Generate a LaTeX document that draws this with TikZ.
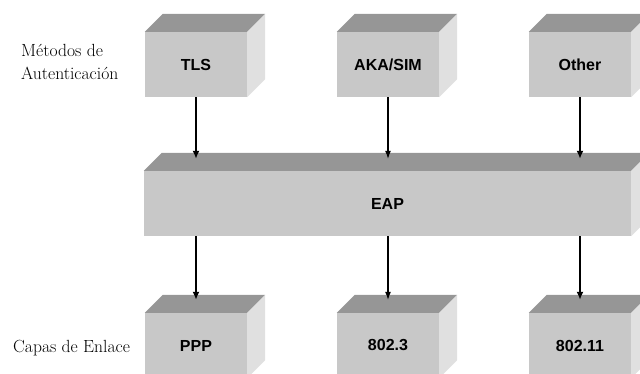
\documentclass[tikz,border=0pt]{standalone}
\usepackage{fontspec}
\newfontfamily\boxfont{Liberation Sans}
\usepackage{tikz}
\usetikzlibrary{arrows.meta, positioning, calc}
\usepackage{xcolor}
\definecolor{FaceGray}{RGB}{200, 200, 200}
\definecolor{TopGray}{RGB}{150, 150, 150}
\definecolor{SideGray}{RGB}{224, 224, 224}

% top and right faces of a block, drawn behind the named front face
\newcommand{\blocksides}[1]{%
  \fill[TopGray] (#1.north west) -- ++(18,-18) -- ($(#1.north east)+(18,-18)$) -- (#1.north east) -- cycle;
  \fill[SideGray] (#1.north east) -- ++(18,-18) -- ($(#1.south east)+(18,-18)$) -- (#1.south east) -- cycle;}

\begin{document}
\begin{tikzpicture}[x=1pt, y=-1pt,
  block/.style={fill=FaceGray, minimum width=102pt, minimum height=65pt, inner sep=0pt,
    font=\boxfont\fontsize{16}{18}\selectfont\bfseries},
  link/.style={-{Latex[length=8pt, width=7pt]}, line width=2pt},
  thinlink/.style={-{Latex[length=8pt, width=6pt]}, line width=1.1pt}]
\useasboundingbox (0,0) rectangle (640,374);
\clip (0,0) rectangle (640,374);
% authentication methods
\node[block] (tls) at (196,64.5) {TLS};
\node[block] (aka) at (388,64.5) {AKA/SIM};
\node[block] (other) at (580,64.5) {Other};
\blocksides{tls}
\blocksides{aka}
\blocksides{other}
\node[anchor=west, inner sep=0pt, align=left, font=\fontsize{17.6}{23}\selectfont] (authlabel) at (21,62) {Métodos de\\Autenticación};
% EAP
\node[block, minimum width=487pt] (eap) at (387.5,203.5) {EAP};
\blocksides{eap}
% link layers
\node[block] (ppp) at (196,345.5) {PPP};
\node[block] (ethernet) at (388,345.5) {802.3};
\node[block] (wlan) at (580,345.5) {802.11};
\blocksides{ppp}
\blocksides{ethernet}
\blocksides{wlan}
\node[anchor=base west, inner sep=0pt, font=\fontsize{17.6}{23}\selectfont] (linklabel) at (13,352) {Capas de Enlace};
% arrows
\draw[link] (tls.south) -- ($(tls.south |- eap.north)+(0,-12)$);
\draw[thinlink] (aka.south) -- ($(aka.south |- eap.north)+(0,-12)$);
\draw[link] (other.south) -- ($(other.south |- eap.north)+(0,-12)$);
\draw[link] (ppp.north |- eap.south) -- ($(ppp.north)+(0,-13)$);
\draw[thinlink] (ethernet.north |- eap.south) -- ($(ethernet.north)+(0,-13)$);
\draw[link] (wlan.north |- eap.south) -- ($(wlan.north)+(0,-13)$);
\end{tikzpicture}
\end{document}
